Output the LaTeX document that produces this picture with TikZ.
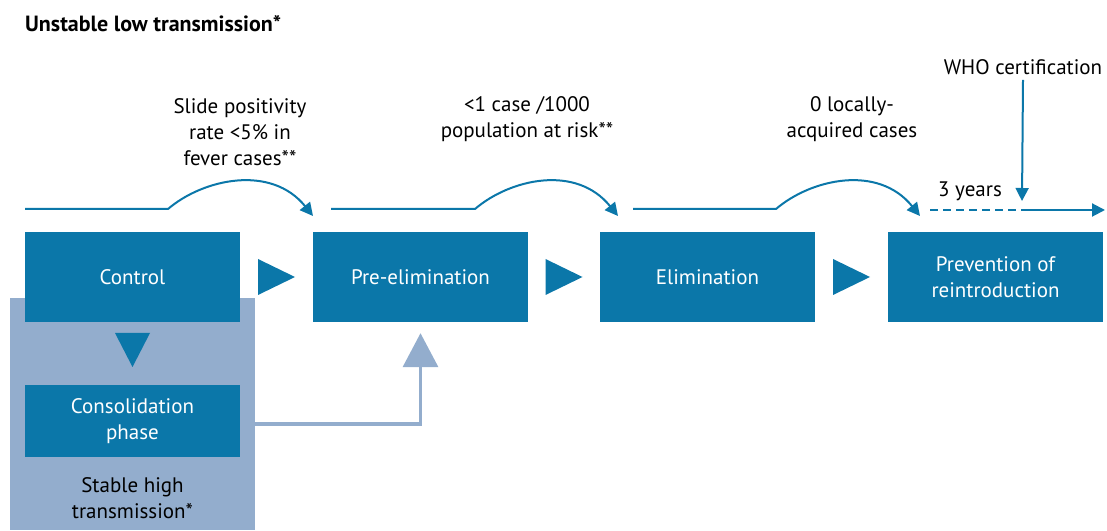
\documentclass[tikz,border=0pt]{standalone}
\usepackage{fontspec}
\setmainfont{PT Sans}
\usetikzlibrary{arrows.meta,calc}

\definecolor{phaseblue}{RGB}{11,119,169}
\definecolor{paleblue}{RGB}{147,173,205}

\begin{document}
\begin{tikzpicture}[x=1pt,y=1pt,>={Triangle[length=13pt,width=13pt]},
        every node/.style={font=\fontsize{21}{26}\selectfont},
        phase/.style={fill=phaseblue,text=white,minimum width=215pt,minimum height=90pt,align=center,inner sep=0pt},
        lbl/.style={align=center,inner sep=0pt},
        timeline/.style={draw=phaseblue,line width=2pt}]
        \useasboundingbox (0,0) rectangle (1107,530);

        \fill[paleblue] (10,0) rectangle (255,232);    % stable high transmission area

        \node[lbl,anchor=west,font=\fontsize{22}{26}\selectfont\bfseries] (title) at (25,506) {Unstable low transmission*};

        % phases
        \node[phase] (control) at (132.5,253) {Control};
        \node[phase] (preelim) at (420.5,253) {Pre-elimination};
        \node[phase] (elim) at (707.5,253) {Elimination};
        \node[phase] (prevent) at (995.5,253) {Prevention of\\reintroduction};
        \node[phase,minimum height=72pt] (consol) at (132.5,109) {Consolidation\\phase};
        \node[lbl] (stable) at (132.5,32) {Stable high\\transmission*};

        % thresholds
        \node[lbl] (slide) at (240,398) {Slide positivity\\rate <5\% in\\fever cases**};
        \node[lbl] (incid) at (527,411) {<1 case /1000\\population at risk**};
        \node[lbl] (local) at (852,411) {0 locally-\\acquired cases};
        \node[lbl] (who) at (1023,463) {WHO certification};
        \node[lbl] (years) at (970,339) {3 years};

        \foreach \a/\b in {control/preelim,preelim/elim,elim/prevent}
            \fill[phaseblue] ($(\a.east)!0.5!(\b.west)$) ++(-18.5,18) -- ++(37,-18) -- ++(-37,-18) -- cycle;
        \fill[phaseblue] ($(control.south)!0.5!(consol.north)$) ++(-17.5,20.5) -- ++(35,0) -- ++(-17.5,-34) -- cycle;

        \draw[paleblue,line width=3.5pt,-{Triangle[length=34pt,width=35pt]}] ($(consol.east)+(0,-3)$) -| ($(preelim.south)+(0,-11)$);

        % time line
        \foreach \s/\c/\e in {25/168/313,331/475/618,633/776/920}
            \draw[timeline,->] (\s,321) -- (\c,321) .. controls +(35,30) and +(-42,52) .. (\e,314);
        \coordinate (cert) at (1022,320);
        \coordinate (stop) at (1105,320);
        \draw[timeline,dash pattern=on 8pt off 5pt] (930,320) -- (cert);
        \draw[timeline,->] (cert) -- (stop);
        \draw[timeline,->] (who.south) ++(0,-5) -- ($(cert)+(0,9)$);
    \end{tikzpicture}
\end{document}
